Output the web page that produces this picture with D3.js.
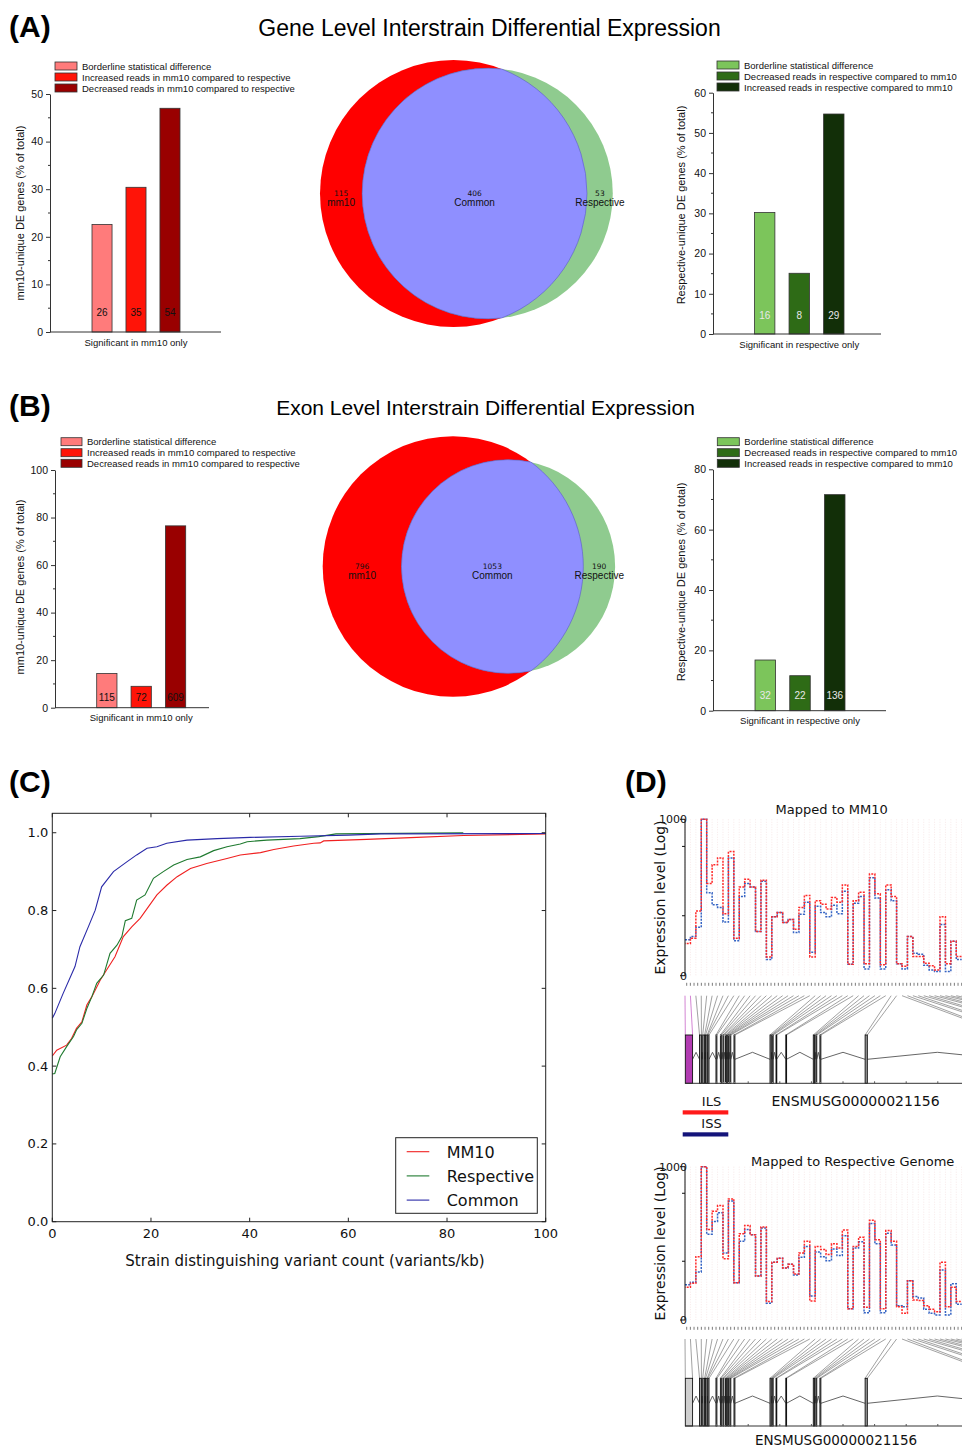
<!DOCTYPE html>
<html><head><meta charset="utf-8">
<script src="https://cdn.jsdelivr.net/npm/d3@7"></script>
<style>body{margin:0;background:#fff}svg{display:block}</style>
</head><body>
<svg id="fig" width="962" height="1450"></svg>
<script>
// ---------------- DATA ----------------
const mm10Categories = ["Borderline statistical difference", "Increased reads in mm10 compared to respective", "Decreased reads in mm10 compared to respective"];
const respCategories = ["Borderline statistical difference", "Decreased reads in respective compared to mm10", "Increased reads in respective compared to mm10"];
const geneMM10Counts = [26, 35, 54];
const geneMM10Pct = [22.6, 30.4, 47.0];
const geneRespCounts = [16, 8, 29];
const geneRespPct = [30.2, 15.1, 54.7];
const exonMM10Counts = [115, 72, 609];
const exonMM10Pct = [14.4, 9.0, 76.5];
const exonRespCounts = [32, 22, 136];
const exonRespPct = [16.8, 11.6, 71.6];
const mm10Colors = ["#ff7b7b", "#ff1408", "#990000"];
const respColors = ["#7cc55b", "#2e6b16", "#122f08"];

const vennLabels = ["mm10", "Common", "Respective"];
const vennGeneCounts = [115, 406, 53];
const vennExonCounts = [796, 1053, 190];

const cdfNames = ["MM10", "Respective", "Common"];
const cdfColors = ["#f02020", "#1f7a2f", "#2a2aa8"];
const cdfMM10 = [[0,.426],[0.9,.441],[2.9,.454],[3.9,.471],[4.9,.497],[6,.514],[7,.557],[8,.578],[9.7,.621],[11,.647],[12.7,.681],[14.4,.733],[16.1,.758],[17.8,.78],[19.5,.81],[21.2,.84],[23.2,.865],[25.3,.887],[28,.908],[31.3,.921],[35.4,.934],[38.1,.943],[42.2,.949],[44.9,.957],[48.9,.966],[53,.973],[54.3,.974],[55,.979],[63.7,.983],[73.9,.988],[83.3,.993],[100,.997]];
const cdfRespective = [[0,.38],[0.5,.381],[1.6,.424],[2.9,.45],[4.3,.476],[4.9,.493],[6,.51],[7,.548],[8,.578],[9,.613],[10.4,.634],[11.7,.69],[13.1,.711],[14.1,.733],[14.8,.774],[16.1,.78],[17.1,.827],[18.8,.84],[20.5,.883],[22.5,.90],[24.6,.917],[27.3,.931],[30,.938],[32.7,.954],[35.4,.964],[38.1,.971],[39.5,.977],[43.5,.981],[50.2,.985],[54,.99],[57.5,.997],[83.3,1.0]];
const cdfCommon = [[0,.523],[0.5,.535],[2.2,.587],[4.6,.656],[5.6,.707],[7.3,.758],[8.7,.801],[10,.861],[12.4,.90],[15.1,.925],[17.1,.943],[19.2,.96],[21.2,.964],[23.2,.973],[27.3,.981],[33.4,.985],[40.1,.988],[50.3,.991],[60,.994],[66.6,.997],[100,.998]];
const cdfXTicks = [0, 20, 40, 60, 80, 100];
const cdfYTicks = [0, 0.2, 0.4, 0.6, 0.8, 1.0];

// Panel D: log expression level per exon bin (0..3 = 0..1000)
const mm10ISS = [.69,.75,.93,3.00,1.59,1.36,1.31,1.03,2.26,.67,1.52,1.77,1.70,.85,1.81,.31,1.13,1.21,1.02,1.08,.83,1.18,1.41,.45,1.33,1.21,1.13,1.35,1.19,1.62,.22,1.39,1.52,.13,1.88,1.49,.13,1.65,1.44,.23,.13,.75,.43,.41,.20,.11,.08,.98,.08,.66,.31];
const mm10ILS = [.62,.72,1.24,3.00,1.77,2.13,2.26,1.19,2.38,.72,1.70,1.85,1.70,.85,1.83,.36,1.13,1.21,1.02,1.08,.89,1.31,1.54,.36,1.44,1.37,1.28,1.50,1.41,1.74,.22,1.44,1.60,.23,1.95,1.57,.21,1.74,1.52,.23,.18,.75,.37,.37,.24,.19,.11,1.13,.23,.66,.37];
const respISS = [.69,.74,.94,3.00,1.68,1.93,2.10,1.31,2.33,.73,1.54,1.77,1.67,.86,1.80,.33,1.13,1.21,1.02,1.09,.88,1.23,1.44,.47,1.33,1.24,1.16,1.39,1.26,1.65,.22,1.41,1.53,.14,1.89,1.49,.14,1.70,1.47,.28,.26,.77,.46,.43,.21,.13,.10,.98,.10,.71,.31];
const respILS = [.64,.72,1.24,3.00,1.77,2.13,2.24,1.20,2.37,.73,1.69,1.85,1.67,.86,1.82,.36,1.13,1.21,1.02,1.09,.90,1.31,1.54,.37,1.44,1.38,1.28,1.49,1.41,1.76,.22,1.44,1.62,.25,1.95,1.57,.22,1.75,1.54,.26,.13,.77,.39,.38,.28,.21,.16,1.13,.26,.64,.36];
const exprTicks = [0, 1.15, 2.48, 3];
const exprTickLabels = {0: "0", 3: "1000"};
const exonStarts = [0.1,4.6,5.6,6.5,7.2,9.8,11.2,12.0,12.8,13.5,14.2,15.5,26.9,27.6,28.8,31.9,40.6,41.4,42.7,57.0,102,110,118,126,134,142];
const exonEnds   = [2.4,5.2,6.2,7.0,7.6,10.1,11.5,12.3,13.1,13.8,14.5,15.8,27.3,27.9,29.0,32.1,41.0,41.7,43.0,57.7,103,111,119,127,135,143];
const geneId = "ENSMUSG00000021156";
const strainNames = ["ILS", "ISS"];
const strainColors = ["#ff1a1a", "#14147a"];

// ---------------- DRAWING ----------------
const svg = d3.select("#fig");
const SANS = "'Liberation Sans', Arial, sans-serif";
const DJV = "'DejaVu Sans', sans-serif";

function txt(x, y, s, size, opts = {}) {
  const t = svg.append("text").attr("x", x).attr("y", y).text(s)
    .attr("font-size", size).attr("font-family", opts.family || SANS)
    .attr("fill", opts.fill || "#000").attr("text-anchor", opts.anchor || "start");
  if (opts.weight) t.attr("font-weight", opts.weight);
  if (opts.rotate) t.attr("transform", `rotate(-90,${x},${y})`);
  return t;
}

// Titles / panel labels
txt(9, 37, "(A)", 30, {weight: "bold"});
txt(489.5, 36, "Gene Level Interstrain Differential Expression", 23, {anchor: "middle"});
txt(9, 416, "(B)", 30, {weight: "bold"});
txt(485.5, 415, "Exon Level Interstrain Differential Expression", 21, {anchor: "middle"});
txt(9, 792, "(C)", 30, {weight: "bold"});
txt(625, 792, "(D)", 30, {weight: "bold"});

function barChart(c) {
  const g = svg.append("g");
  const y = d3.scaleLinear().domain([0, c.max]).range([c.y0, c.yTop]);
  const x = d3.scaleBand().domain(c.cats).range(c.barRange).paddingInner(0.41).paddingOuter(0);
  g.selectAll("rect.bar").data(c.values).join("rect")
    .attr("x", (d, i) => x(c.cats[i])).attr("width", x.bandwidth())
    .attr("y", d => y(d)).attr("height", d => c.y0 - y(d))
    .attr("fill", (d, i) => c.colors[i]).attr("stroke", "#333").attr("stroke-width", 0.8);
  g.selectAll("text.num").data(c.counts).join("text")
    .attr("x", (d, i) => x(c.cats[i]) + x.bandwidth() / 2).attr("y", c.y0 - c.numOff)
    .attr("text-anchor", "middle").attr("font-size", 10).attr("font-family", SANS)
    .attr("fill", c.numColor).text(d => d);
  const ax = d3.axisLeft(y).tickValues(d3.range(0, c.max + 0.001, c.major)).tickSize(4).tickSizeOuter(0).tickPadding(3);
  const ag = g.append("g").attr("transform", `translate(${c.axisX},0)`).call(ax);
  ag.select(".domain").attr("stroke", "#333");
  ag.selectAll(".tick line").attr("stroke", "#333");
  ag.selectAll(".tick text").attr("font-size", 10.5).attr("font-family", SANS).attr("fill", "#111");
  g.selectAll("line.minor").data(d3.range(c.major / 2, c.max, c.major)).join("line")
    .attr("x1", c.axisX - 2).attr("x2", c.axisX).attr("y1", d => y(d)).attr("y2", d => y(d))
    .attr("stroke", "#333");
  g.append("line").attr("x1", c.axisX).attr("x2", c.xEnd).attr("y1", c.y0).attr("y2", c.y0)
    .attr("stroke", "#333").attr("stroke-width", 1);
  // legend
  c.cats.forEach((cat, i) => {
    const ry = c.legRows[i];
    g.append("rect").attr("x", c.legBox[0]).attr("y", ry - 4).attr("width", c.legBox[1] - c.legBox[0]).attr("height", 8)
      .attr("fill", c.colors[i]).attr("stroke", "#333").attr("stroke-width", 0.8);
    g.append("text").attr("x", c.legBox[1] + 5).attr("y", ry + 3.5).text(cat)
      .attr("font-size", 9.5).attr("font-family", SANS).attr("fill", "#111");
  });
  const bx = (c.barRange[0] + c.barRange[1]) / 2;
  txt(bx, c.y0 + 13.5, c.xlabel, 9.5, {anchor: "middle", fill: "#111"});
  txt(c.ylab[0] + 4, c.ylab[1], c.ylabel, 11, {anchor: "middle", rotate: true, fill: "#111"});
}

barChart({cats: mm10Categories, values: geneMM10Pct, counts: geneMM10Counts, colors: mm10Colors, numColor: "#111",
  max: 50, major: 10, axisX: 50, y0: 332, yTop: 94, xEnd: 221, barRange: [92, 180], numOff: 16.3,
  legBox: [55, 77], legRows: [66, 77, 88], xlabel: "Significant in mm10 only",
  ylabel: "mm10-unique DE genes (% of total)", ylab: [20, 213]});
barChart({cats: respCategories, values: geneRespPct, counts: geneRespCounts, colors: respColors, numColor: "#e8e8e8",
  max: 60, major: 10, axisX: 713, y0: 334, yTop: 92.7, xEnd: 881, barRange: [754.5, 844], numOff: 15,
  legBox: [717, 739], legRows: [65, 76, 87], xlabel: "Significant in respective only",
  ylabel: "Respective-unique DE genes (% of total)", ylab: [680.7, 205]});
barChart({cats: mm10Categories, values: exonMM10Pct, counts: exonMM10Counts, colors: mm10Colors, numColor: "#111",
  max: 100, major: 20, axisX: 55, y0: 707.7, yTop: 470, xEnd: 209, barRange: [96.7, 185.7], numOff: 6.5,
  legBox: [61, 82], legRows: [441.7, 452.7, 463.3], xlabel: "Significant in mm10 only",
  ylabel: "mm10-unique DE genes (% of total)", ylab: [20, 587]});
barChart({cats: respCategories, values: exonRespPct, counts: exonRespCounts, colors: respColors, numColor: "#e8e8e8",
  max: 80, major: 20, axisX: 713, y0: 710.7, yTop: 469.3, xEnd: 886, barRange: [755, 845], numOff: 11.4,
  legBox: [717.3, 739.3], legRows: [441.7, 452.7, 463.3], xlabel: "Significant in respective only",
  ylabel: "Respective-unique DE genes (% of total)", ylab: [680.7, 582]});

// ---------------- Venn ----------------
function lensArea(r1, r2, d) {
  if (d >= r1 + r2) return 0;
  if (d <= Math.abs(r1 - r2)) return Math.PI * Math.min(r1, r2) ** 2;
  const a1 = r1 * r1 * Math.acos((d * d + r1 * r1 - r2 * r2) / (2 * d * r1));
  const a2 = r2 * r2 * Math.acos((d * d + r2 * r2 - r1 * r1) / (2 * d * r2));
  const a3 = 0.5 * Math.sqrt((-d + r1 + r2) * (d + r1 - r2) * (d - r1 + r2) * (d + r1 + r2));
  return a1 + a2 - a3;
}
function venn(counts, cx, cy, rMax) {
  const tot1 = counts[0] + counts[1], tot2 = counts[1] + counts[2];
  const rs = d3.scaleSqrt().domain([0, Math.max(tot1, tot2)]).range([0, rMax]);
  const r1 = rs(tot1), r2 = rs(tot2);
  const target = counts[1] / tot1 * Math.PI * r1 * r1;
  let lo = Math.abs(r1 - r2), hi = r1 + r2;
  for (let k = 0; k < 60; k++) { const m = (lo + hi) / 2; if (lensArea(r1, r2, m) > target) lo = m; else hi = m; }
  const d = (lo + hi) / 2;
  const c2x = cx + d;
  const g = svg.append("g");
  g.append("circle").attr("cx", cx).attr("cy", cy).attr("r", r1).attr("fill", "#ff0000");
  g.append("circle").attr("cx", c2x).attr("cy", cy).attr("r", r2).attr("fill", "#8fcb8f");
  const xi = (d * d + r1 * r1 - r2 * r2) / (2 * d);
  const h = Math.sqrt(r1 * r1 - xi * xi);
  const px = cx + xi;
  const lA2 = xi > d ? 1 : 0, lA1 = xi < 0 ? 1 : 0;
  g.append("path").attr("d", `M${px},${cy - h} A${r2},${r2} 0 ${lA2} 0 ${px},${cy + h} A${r1},${r1} 0 ${lA1} 0 ${px},${cy - h} Z`)
    .attr("fill", "#8f8fff").attr("stroke", "#5a5ac8").attr("stroke-width", 0.6);
  const xs = [(cx - r1 + c2x - r2) / 2, (c2x - r2 + cx + r1) / 2, (cx + r1 + c2x + r2) / 2];
  const nums = [counts[0], counts[1], counts[2]];
  xs.forEach((x, i) => {
    txt(x, cy + 2, nums[i], 7.5, {anchor: "middle", family: DJV, fill: "#111"});
    txt(x, cy + 12.5, vennLabels[i], 10, {anchor: "middle", fill: "#111"});
  });
}
venn(vennGeneCounts, 453.5, 193.5, 133.5);
venn(vennExonCounts, 453, 566.5, 130.3);

// ---------------- Panel C ----------------
(function () {
  const L = 52.3, R = 545.7, T = 813.3, B = 1221.7;
  const x = d3.scaleLinear().domain([0, 100]).range([L, R]);
  const y = d3.scaleLinear().domain([0, 1.05]).range([B, T]);
  const g = svg.append("g");
  const line = d3.line().x(d => x(d[0])).y(d => y(d[1]));
  [cdfMM10, cdfRespective, cdfCommon].forEach((s, i) => {
    g.append("path").attr("d", line(s)).attr("fill", "none").attr("stroke", cdfColors[i]).attr("stroke-width", 1.1);
  });
  g.append("rect").attr("x", L).attr("y", T).attr("width", R - L).attr("height", B - T)
    .attr("fill", "none").attr("stroke", "#222").attr("stroke-width", 1);
  cdfXTicks.forEach(v => {
    g.append("line").attr("x1", x(v)).attr("x2", x(v)).attr("y1", B).attr("y2", B - 4).attr("stroke", "#222");
    g.append("line").attr("x1", x(v)).attr("x2", x(v)).attr("y1", T).attr("y2", T + 4).attr("stroke", "#222");
    txt(x(v), B + 16, v, 13, {anchor: "middle", family: DJV, fill: "#111"});
  });
  cdfYTicks.forEach(v => {
    g.append("line").attr("x1", L).attr("x2", L + 4).attr("y1", y(v)).attr("y2", y(v)).attr("stroke", "#222");
    g.append("line").attr("x1", R).attr("x2", R - 4).attr("y1", y(v)).attr("y2", y(v)).attr("stroke", "#222");
    txt(L - 4, y(v) + 4.5, v.toFixed(1), 13, {anchor: "end", family: DJV, fill: "#111"});
  });
  txt(305, 1266, "Strain distinguishing variant count (variants/kb)", 15, {anchor: "middle", family: DJV, fill: "#111"});
  // legend
  g.append("rect").attr("x", 395.7).attr("y", 1137.7).attr("width", 141.6).attr("height", 75.6)
    .attr("fill", "#fff").attr("stroke", "#222").attr("stroke-width", 1);
  cdfNames.forEach((n, i) => {
    const ry = 1151.7 + i * 24.2;
    g.append("line").attr("x1", 406.7).attr("x2", 429.3).attr("y1", ry).attr("y2", ry).attr("stroke", cdfColors[i]).attr("stroke-width", 1.1);
    txt(446.7, ry + 6, n, 16, {family: DJV, fill: "#111"});
  });
})();

// ---------------- Panel D ----------------
const xb = d3.scaleLinear().domain([0, 51]).range([685, 961.7]);
function exprPlot(o) {
  const g = svg.append("g");
  const y = d3.scaleLinear().domain([0, 3]).range([o.yBot, o.yTop]);
  d3.range(0, 52).forEach(i => {
    g.append("line").attr("x1", xb(i)).attr("x2", xb(i)).attr("y1", o.yTop).attr("y2", o.yBot)
      .attr("stroke", "#f1dada").attr("stroke-width", 0.6).attr("stroke-dasharray", "1,1.5");
  });
  const line = d3.line().curve(d3.curveStepAfter).x(d => xb(d[0])).y(d => y(d[1]));
  const pts = arr => arr.map((v, i) => [i, v]).concat([[arr.length, arr[arr.length - 1]]]);
  g.append("path").attr("d", line(pts(o.blue))).attr("fill", "none").attr("stroke", "#3564c4")
    .attr("stroke-width", 1.5).attr("stroke-dasharray", "2,1.2");
  g.append("path").attr("d", line(pts(o.red))).attr("fill", "none").attr("stroke", "#ff2a2a")
    .attr("stroke-width", 1.5).attr("stroke-dasharray", "2,1.2").attr("stroke-dashoffset", 1.5);
  g.append("line").attr("x1", 685).attr("x2", 685).attr("y1", o.yTop).attr("y2", o.yBot).attr("stroke", "#111");
  exprTicks.forEach(v => {
    const major = exprTickLabels[v] !== undefined;
    g.append("line").attr("x1", 685 - (major ? 5 : 3)).attr("x2", 685).attr("y1", y(v)).attr("y2", y(v)).attr("stroke", "#111");
    if (major) txt(687, y(v) + 4, exprTickLabels[v], 11, {anchor: "end", family: DJV, fill: "#111"});
  });
  txt(o.titleX, o.titleY, o.title, 13, {anchor: "middle", family: DJV, fill: "#111"});
  txt(665, (o.yTop + o.yBot) / 2, "Expression level (Log)", 14, {anchor: "middle", family: DJV, rotate: true, fill: "#111"});
}
exprPlot({yTop: 819.3, yBot: 975.7, blue: mm10ISS, red: mm10ILS, title: "Mapped to MM10", titleX: 831.7, titleY: 814});
exprPlot({yTop: 1166.7, yBot: 1320, blue: respISS, red: respILS, title: "Mapped to Respective Genome", titleX: 852.7, titleY: 1166});

function geneModel(o) {
  const gx = d3.scaleLinear().domain([0, 100]).range([685, 1001]);
  const g = svg.append("g");
  const tk = d3.scaleLinear().domain([0, 75]).range([686.7, 961.7]);
  d3.range(76).forEach(i => {
    g.append("line").attr("x1", tk(i)).attr("x2", tk(i)).attr("y1", o.tickY - 1.5).attr("y2", o.tickY + 1.5)
      .attr("stroke", "#444").attr("stroke-width", 0.7);
  });
  const edges = [];
  exonStarts.forEach((s, i) => { edges.push({v: s, ex: i}); edges.push({v: exonEnds[i], ex: i}); });
  edges.forEach((e, k) => {
    g.append("line").attr("x1", xb(k)).attr("y1", o.fanTop).attr("x2", gx(e.v)).attr("y2", o.boxTop)
      .attr("stroke", (e.ex === 0 && o.magenta) ? "#c050c0" : "#7a7a7a").attr("stroke-width", 0.7);
  });
  // introns
  for (let i = 0; i < exonStarts.length - 1; i++) {
    const a = gx(exonEnds[i]), b = gx(exonStarts[i + 1]);
    g.append("polyline").attr("points", `${a},${o.zigBase} ${(a + b) / 2},${o.zigPeak} ${b},${o.zigBase}`)
      .attr("fill", "none").attr("stroke", "#555").attr("stroke-width", 0.9);
  }
  exonStarts.forEach((s, i) => {
    const x0 = gx(s), w = Math.max(gx(exonEnds[i]) - x0, 0.8);
    g.append("rect").attr("x", x0).attr("y", o.boxTop).attr("width", w).attr("height", o.boxBot - o.boxTop)
      .attr("fill", i === 0 ? o.firstFill : "#9a9a9a").attr("stroke", "#111").attr("stroke-width", 0.9);
  });
  g.append("line").attr("x1", 685).attr("x2", 962).attr("y1", o.boxBot).attr("y2", o.boxBot).attr("stroke", "#333");
  d3.range(10, 100, 10).forEach(v => {
    g.append("line").attr("x1", gx(v)).attr("x2", gx(v)).attr("y1", o.boxBot).attr("y2", o.boxBot - 2).attr("stroke", "#555");
  });
}
geneModel({tickY: 984.3, fanTop: 995.7, boxTop: 1035, boxBot: 1083.3, zigBase: 1059.3, zigPeak: 1052.3, firstFill: "#b23cb2", magenta: true});
geneModel({tickY: 1328.3, fanTop: 1339, boxTop: 1378.3, boxBot: 1426, zigBase: 1403.3, zigPeak: 1396, firstFill: "#cfcfcf", magenta: false});

txt(855.5, 1106, geneId, 14, {anchor: "middle", family: DJV, fill: "#111"});
txt(836, 1445, geneId, 13.5, {anchor: "middle", family: DJV, fill: "#111"});
strainNames.forEach((n, i) => {
  txt(711.5, 1106 + i * 22.3, n, 13, {anchor: "middle", family: DJV, fill: "#111"});
  svg.append("rect").attr("x", 682.7).attr("y", 1110.3 + i * 22).attr("width", 45.6).attr("height", 4.2).attr("fill", strainColors[i]);
});
</script>
</body></html>
